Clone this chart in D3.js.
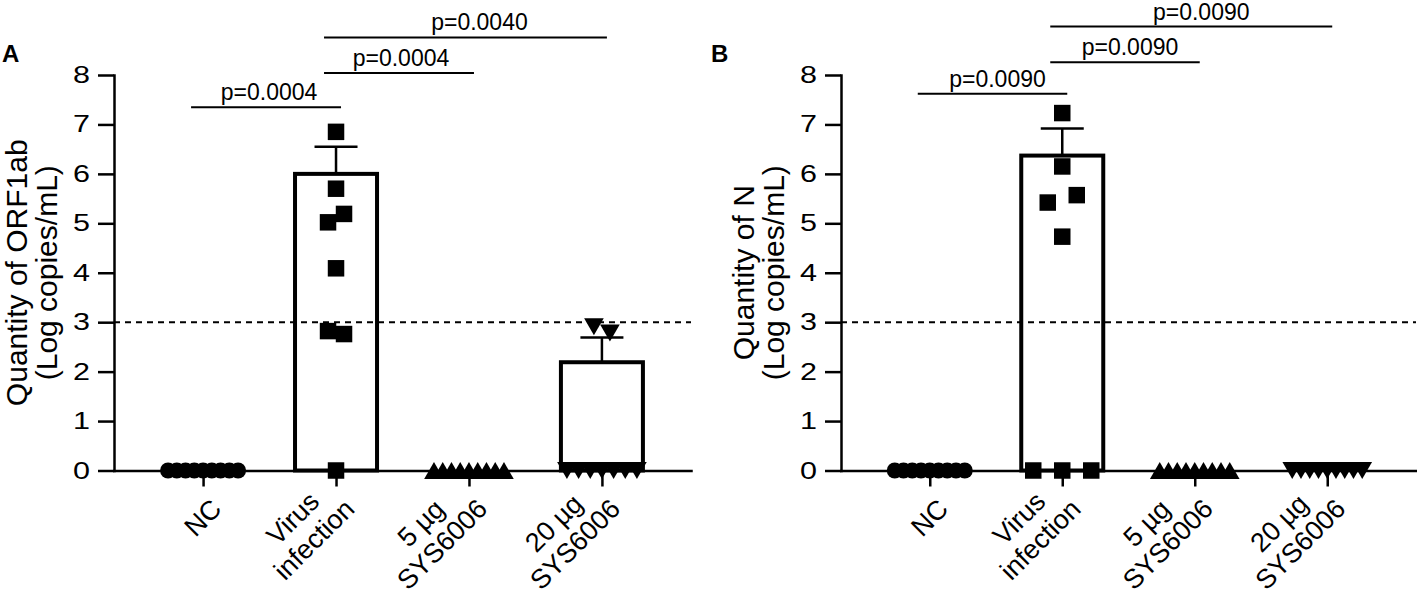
<!DOCTYPE html>
<meta charset="utf-8">
<style>

body {
  margin: 0;
  background: #fff;
}
text {
  font-family: "Liberation Sans", Arial, sans-serif;
  fill: #000;
}
.axis path,
.axis line {
  stroke: #000;
  stroke-width: 2.5px;
}
.axis text {
  font-size: 23.5px;
}
.bar {
  fill: none;
  stroke: #000;
  stroke-width: 4px;
}
.err {
  stroke: #000;
  stroke-width: 2.5px;
}
.limit {
  stroke: #000;
  stroke-width: 2px;
  stroke-dasharray: 6,5;
}
.sig {
  stroke: #000;
  stroke-width: 2px;
}
.sig-label {
  font-size: 23px;
}
.ytitle {
  font-size: 30px;
}
.xlabel {
  font-size: 27px;
}
.letter {
  font-size: 24px;
  font-weight: bold;
}

</style>
<body>
<script src="https://d3js.org/d3.v7.min.js"></script>
<script>
var width = 1417,
    height = 595;

// groups, shared by both panels
var categories = ["NC", "Virus infection", "5 µg SYS6006", "20 µg SYS6006"];
var categoryLines = [["NC"], ["Virus", "infection"], ["5 µg", "SYS6006"], ["20 µg", "SYS6006"]];
var yTicks = [0, 1, 2, 3, 4, 5, 6, 7, 8];
var detectionLimit = 3;
var comparisons = [[0, 1], [1, 2], [1, 3]];

// A: ORF1ab (log copies/mL)
var orfNC = [0, 0, 0, 0, 0, 0, 0, 0, 0];
var orfVirus = [6.85, 5.70, 5.02, 5.19, 4.09, 2.82, 2.76, 0];
var orf5ug = [0, 0, 0, 0, 0, 0, 0, 0, 0];
var orf20ug = [2.91, 2.78, 0, 0, 0, 0, 0, 0, 0];
var orfMean = [0, 6.0, 0, 2.19];
var orfSem = [0, 0.55, 0, 0.50];
var orfP = ["p=0.0004", "p=0.0004", "p=0.0040"];

// B: N (log copies/mL)
var nNC = [0, 0, 0, 0, 0, 0, 0, 0, 0];
var nVirus = [7.23, 6.15, 5.42, 5.57, 4.73, 0, 0, 0];
var n5ug = [0, 0, 0, 0, 0, 0, 0, 0, 0];
var n20ug = [0, 0, 0, 0, 0, 0, 0, 0, 0];
var nMean = [0, 6.37, 0, 0];
var nSem = [0, 0.55, 0, 0];
var nP = ["p=0.0090", "p=0.0090", "p=0.0090"];

var panels = [
  {letter: "A", title: ["Quantity of ORF1ab", "(Log copies/mL)"],
   points: [orfNC, orfVirus, orf5ug, orf20ug], mean: orfMean, sem: orfSem, p: orfP,
   left: 114, right: 691, letterX: 2, sigLevels: [7.35, 8.04, 8.76], sigShift: [3, 2, 14], gap: 16},
  {letter: "B", title: ["Quantity of N", "(Log copies/mL)"],
   points: [nNC, nVirus, n5ug, n20ug], mean: nMean, sem: nSem, p: nP,
   left: 841, right: 1416, letterX: 711, sigLevels: [7.62, 8.26, 8.98], sigShift: [5, 5, 10], gap: 29}
];

var symbols = [
  {type: d3.symbolCircle, size: 201, rot: 0},
  {type: d3.symbolSquare, size: 272, rot: 0},
  {type: d3.symbolTriangle, size: 167, rot: 0},
  {type: d3.symbolTriangle, size: 167, rot: 180}
];

var y = d3.scaleLinear().domain([0, 8]).range([470.5, 75]);

var svg = d3.select("body").append("svg")
    .attr("width", width)
    .attr("height", height);

// spread points that would overlap side by side, like a column scatter
function spread(values, gap, maxSpan, size) {
  var order = values.map(function(v, i) { return i; })
      .sort(function(a, b) { return values[b] - values[a] || a - b; });
  var offsets = values.map(function() { return 0; });
  var cluster = [];
  function flush() {
    cluster.sort(function(a, b) { return a - b; });
    var n = cluster.length,
        step = n > 1 ? Math.min(gap, maxSpan / (n - 1)) : 0;
    cluster.forEach(function(i, k) { offsets[i] = (k - (n - 1) / 2) * step; });
    cluster = [];
  }
  order.forEach(function(i) {
    if (cluster.length && y(values[i]) - y(values[cluster[cluster.length - 1]]) >= size) flush();
    cluster.push(i);
  });
  flush();
  return offsets;
}

var tickStretch = 1.3;

panels.forEach(function(p) {
  var x = d3.scalePoint().domain(categories).range([p.left, p.right]).padding(0.67);
  var g = svg.append("g");

  g.append("g")
      .attr("class", "axis")
      .attr("transform", "translate(0," + y(0) + ")")
      .call(d3.axisBottom(x).tickSize(16).tickSizeOuter(0).tickFormat(""));

  g.append("g")
      .attr("class", "axis")
      .attr("transform", "translate(" + p.left + ",0)")
      .call(d3.axisLeft(y).tickValues(yTicks).tickSize(16).tickSizeOuter(0).tickPadding(8))
    .selectAll("text")
      .attr("x", -24 / tickStretch)
      .attr("transform", "scale(" + tickStretch + ",1)");

  g.selectAll(".axis .domain").attr("stroke-linecap", "square");

  // category labels, rotated 45 degrees, lines centred
  categories.forEach(function(c, i) {
    var lines = categoryLines[i];
    var t = g.append("g")
        .attr("transform", "translate(" + (x(c) + 20) + "," + (y(0) + 40) + ")rotate(-45)");
    var texts = t.selectAll("text")
        .data(lines)
      .enter().append("text")
        .attr("class", "xlabel")
        .attr("text-anchor", "middle")
        .attr("y", function(d, k) { return -(lines.length - 1 - k) * 30; })
        .text(function(d) { return d; });
    var maxLen = d3.max(texts.nodes(), function(n) { return n.getComputedTextLength(); });
    texts.attr("x", -maxLen / 2);
  });

  // y title
  var cy = (y(0) + y(8)) / 2;
  p.title.forEach(function(line, k) {
    g.append("text")
        .attr("class", "ytitle")
        .attr("text-anchor", "middle")
        .attr("transform", "translate(" + (p.left - 87 + k * 30) + "," + cy + ")rotate(-90)")
        .text(line);
  });

  g.append("text")
      .attr("class", "letter")
      .attr("x", p.letterX)
      .attr("y", 62)
      .text(p.letter);

  // limit of detection
  g.append("line")
      .attr("class", "limit")
      .attr("x1", p.left)
      .attr("x2", p.right)
      .attr("y1", y(detectionLimit))
      .attr("y2", y(detectionLimit));

  var bw = 82, cap = 43;
  categories.forEach(function(c, i) {
    if (!p.mean[i]) return;
    g.append("rect")
        .attr("class", "bar")
        .attr("x", x(c) - bw / 2)
        .attr("y", y(p.mean[i]))
        .attr("width", bw)
        .attr("height", y(0) - y(p.mean[i]));
    var top = y(p.mean[i] + p.sem[i]);
    g.append("line")
        .attr("class", "err")
        .attr("x1", x(c)).attr("x2", x(c))
        .attr("y1", y(p.mean[i])).attr("y2", top);
    g.append("line")
        .attr("class", "err")
        .attr("x1", x(c) - cap / 2).attr("x2", x(c) + cap / 2)
        .attr("y1", top).attr("y2", top);
  });

  // individual animals
  categories.forEach(function(c, i) {
    var vals = p.points[i],
        s = symbols[i],
        offs = spread(vals, p.gap, 70, 16),
        h = s.type === d3.symbolTriangle ? 3 * Math.sqrt(s.size / (Math.sqrt(3) * 3)) : 0,
        shift = s.rot ? -h / 6 : h / 6;
    g.selectAll(null)
        .data(vals)
      .enter().append("path")
        .attr("d", d3.symbol().type(s.type).size(s.size))
        .attr("fill", "#000")
        .attr("transform", function(d, k) {
          return "translate(" + (x(c) + offs[k]) + "," + (y(d) + shift) + ")rotate(" + s.rot + ")";
        });
  });

  // significance brackets
  comparisons.forEach(function(cmp, k) {
    var x1 = x(categories[cmp[0]]) - 12,
        x2 = x(categories[cmp[1]]) + 5,
        ly = y(p.sigLevels[k]);
    g.append("line")
        .attr("class", "sig")
        .attr("x1", x1).attr("x2", x2)
        .attr("y1", ly).attr("y2", ly);
    g.append("text")
        .attr("class", "sig-label")
        .attr("text-anchor", "middle")
        .attr("x", (x1 + x2) / 2 + p.sigShift[k])
        .attr("y", ly - 7)
        .text(p.p[k]);
  });
});

</script>
